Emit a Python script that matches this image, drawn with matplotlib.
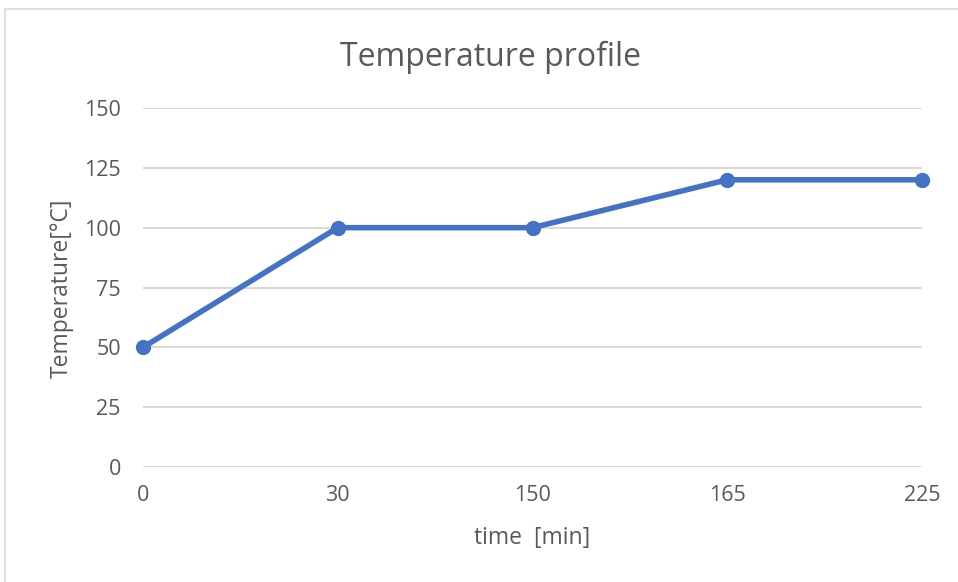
import matplotlib
matplotlib.use('Agg')
import matplotlib.pyplot as plt
import matplotlib.patches as patches

# ── 데이터 ───────────────────────────────────────────────────────────────────
time_labels = ['0', '30', '150', '165', '225']
temperature = [50, 100, 100, 120, 120]
y_ticks = [0, 25, 50, 75, 100, 125, 150]

TEXT_COLOR = '#595959'
LINE_COLOR = '#4472C4'
GRID_COLOR = '#D9D9D9'
W, H = 958, 582

plt.rcParams['font.family'] = ['Open Sans', 'DejaVu Sans']

fig = plt.figure(figsize=(W / 100, H / 100), dpi=100)
ax = fig.add_axes([143 / W, 1 - 467 / H, (922 - 143) / W, (467 - 108) / H])

# 차트 테두리
fig.patches.append(patches.Rectangle(
    (5 / W, -0.05), 1.05, 1 - 9 / H + 0.05,
    transform=fig.transFigure, fill=False, edgecolor='#D9D9D9', lw=1.2))

x = list(range(len(time_labels)))
ax.plot(x, temperature, color=LINE_COLOR, lw=4, marker='o', markersize=10,
        solid_capstyle='round', zorder=3, clip_on=False)

ax.set_xlim(0, len(time_labels) - 1)
ax.set_ylim(0, 150)
ax.set_xticks(x)
ax.set_xticklabels(time_labels)
ax.set_yticks(y_ticks)
ax.tick_params(length=0, labelsize=15.5, colors=TEXT_COLOR)
ax.tick_params(axis='y', pad=16)
ax.tick_params(axis='x', pad=13)
ax.grid(axis='y', color=GRID_COLOR, lw=1.4)
ax.grid(axis='x', visible=False)
ax.set_axisbelow(True)
for s in ax.spines.values():
    s.set_visible(False)

ax.set_xlabel('time  [min]', fontsize=16.5, color=TEXT_COLOR, va='center')
ax.xaxis.set_label_coords(532 / W, 1 - 538 / H, transform=fig.transFigure)
ax.set_ylabel('Temperature[°C]', fontsize=16.5, color=TEXT_COLOR, va='center')
ax.yaxis.set_label_coords(62 / W, 1 - 288 / H, transform=fig.transFigure)
fig.text(490 / W, 1 - 57 / H, 'Temperature profile', ha='center', va='center',
         fontsize=23, color=TEXT_COLOR)

fig.savefig('out.png', dpi=100, facecolor='white')
